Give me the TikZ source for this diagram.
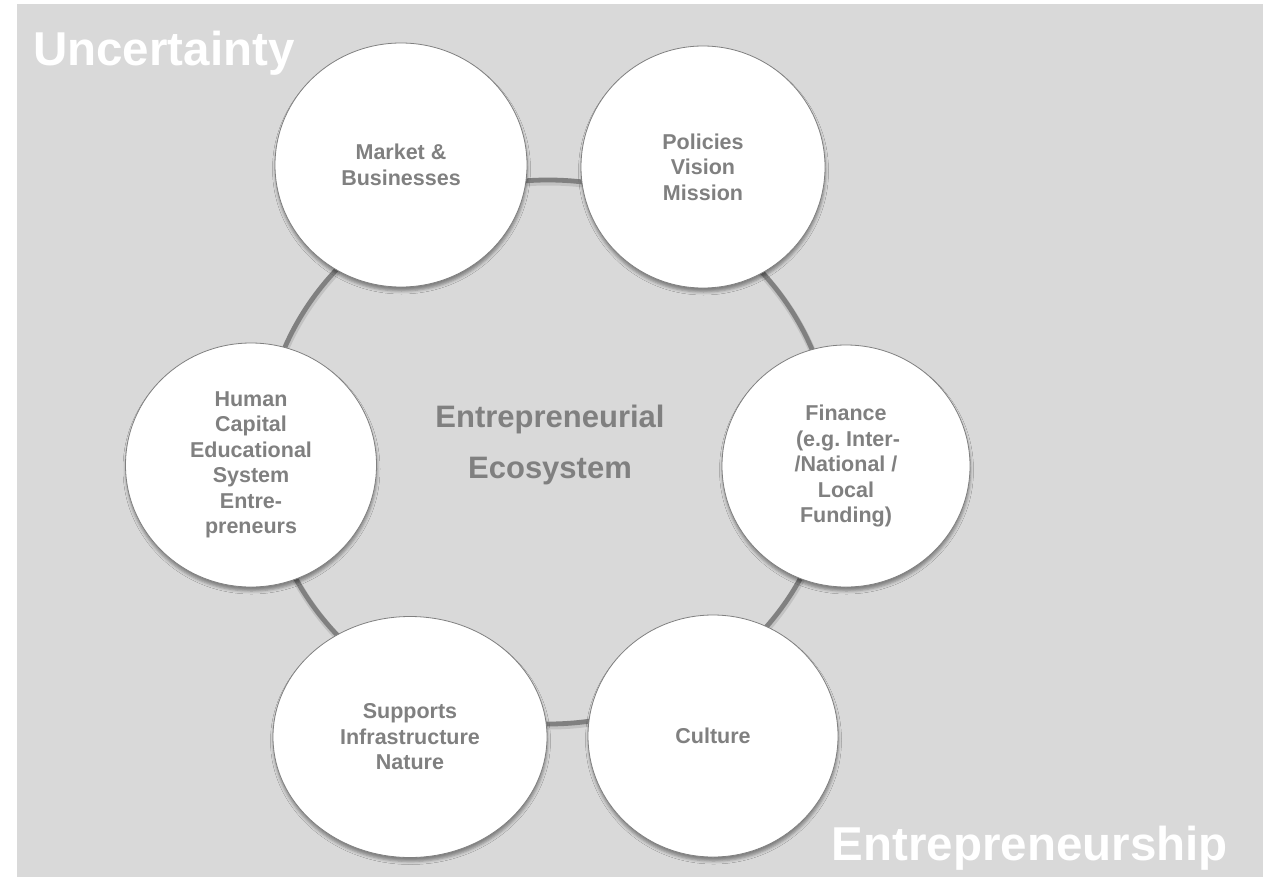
\documentclass[tikz,border=0pt]{standalone}
\usepackage{fontspec}
\setmainfont{Liberation Sans}
\usetikzlibrary{shapes.geometric,shadows.blur}
\definecolor{bggrey}{RGB}{217,217,217}
\definecolor{txtgrey}{RGB}{128,128,128}
\definecolor{ringgrey}{RGB}{128,128,128}
\frenchspacing
\begin{document}
\begin{tikzpicture}[x=1pt,y=-1pt,
  hub/.style={ellipse, fill=white, draw=txtgrey, line width=0.8pt, inner sep=0pt,
    align=center, text=txtgrey, font=\fontsize{21.5}{25.5}\selectfont\bfseries,
    blur shadow={shadow xshift=0.5pt, shadow yshift=-4pt, shadow blur radius=3pt, shadow opacity=40}},
  corner/.style={text=white, font=\fontsize{47.5}{55}\selectfont\bfseries, inner sep=0pt},
  eco/.style={text=txtgrey, font=\fontsize{31}{36}\selectfont\bfseries, inner sep=0pt, anchor=base},
  ringline/.style={draw=ringgrey, line width=4.8pt},
  ringshade/.style={draw=black, opacity=0.10, line width=7pt}
]
\useasboundingbox (0,0) rectangle (1276,894);
\fill[bggrey] (17,4) rectangle (1263,877);

% ring connecting the six factors
\coordinate (ring) at (548,452);
\coordinate (ringsh) at (548.5,454);
\draw[ringshade] (ringsh) ellipse [x radius=285, y radius=272];
\draw[ringline] (ring) ellipse [x radius=285, y radius=272];

% factor circles
\node[hub, minimum width=252, minimum height=244] (market) at (401,165) {Market \&\\Businesses};
\node[hub, minimum width=244, minimum height=242] (policies) at (703,167) {Policies\\Vision\\Mission};
\node[hub, minimum width=248, minimum height=242] (finance) at (846,466) {Finance\\\hspace*{4pt}(e.g. Inter-\\/National /\\Local\\Funding)};
\node[hub, minimum width=250, minimum height=242] (culture) at (713,736) {Culture};
\node[hub, minimum width=274, minimum height=241] (supports) at (410,737) {Supports\\Infrastructure\\Nature};
\node[hub, minimum width=251, minimum height=244] (human) at (251,465) {Human\\Capital\\Educational\\System\\Entre-\\preneurs};

% centre title
\node[eco] (ent) at (550,427) {Entrepreneurial};
\node[eco] (eco) at (550,478) {Ecosystem};

% corner labels
\node[corner, anchor=base west] (unc) at (33,65) {Uncertainty};
\node[corner, anchor=base east] (entship) at (1228,860) {Entrepreneurship};
\end{tikzpicture}
\end{document}
